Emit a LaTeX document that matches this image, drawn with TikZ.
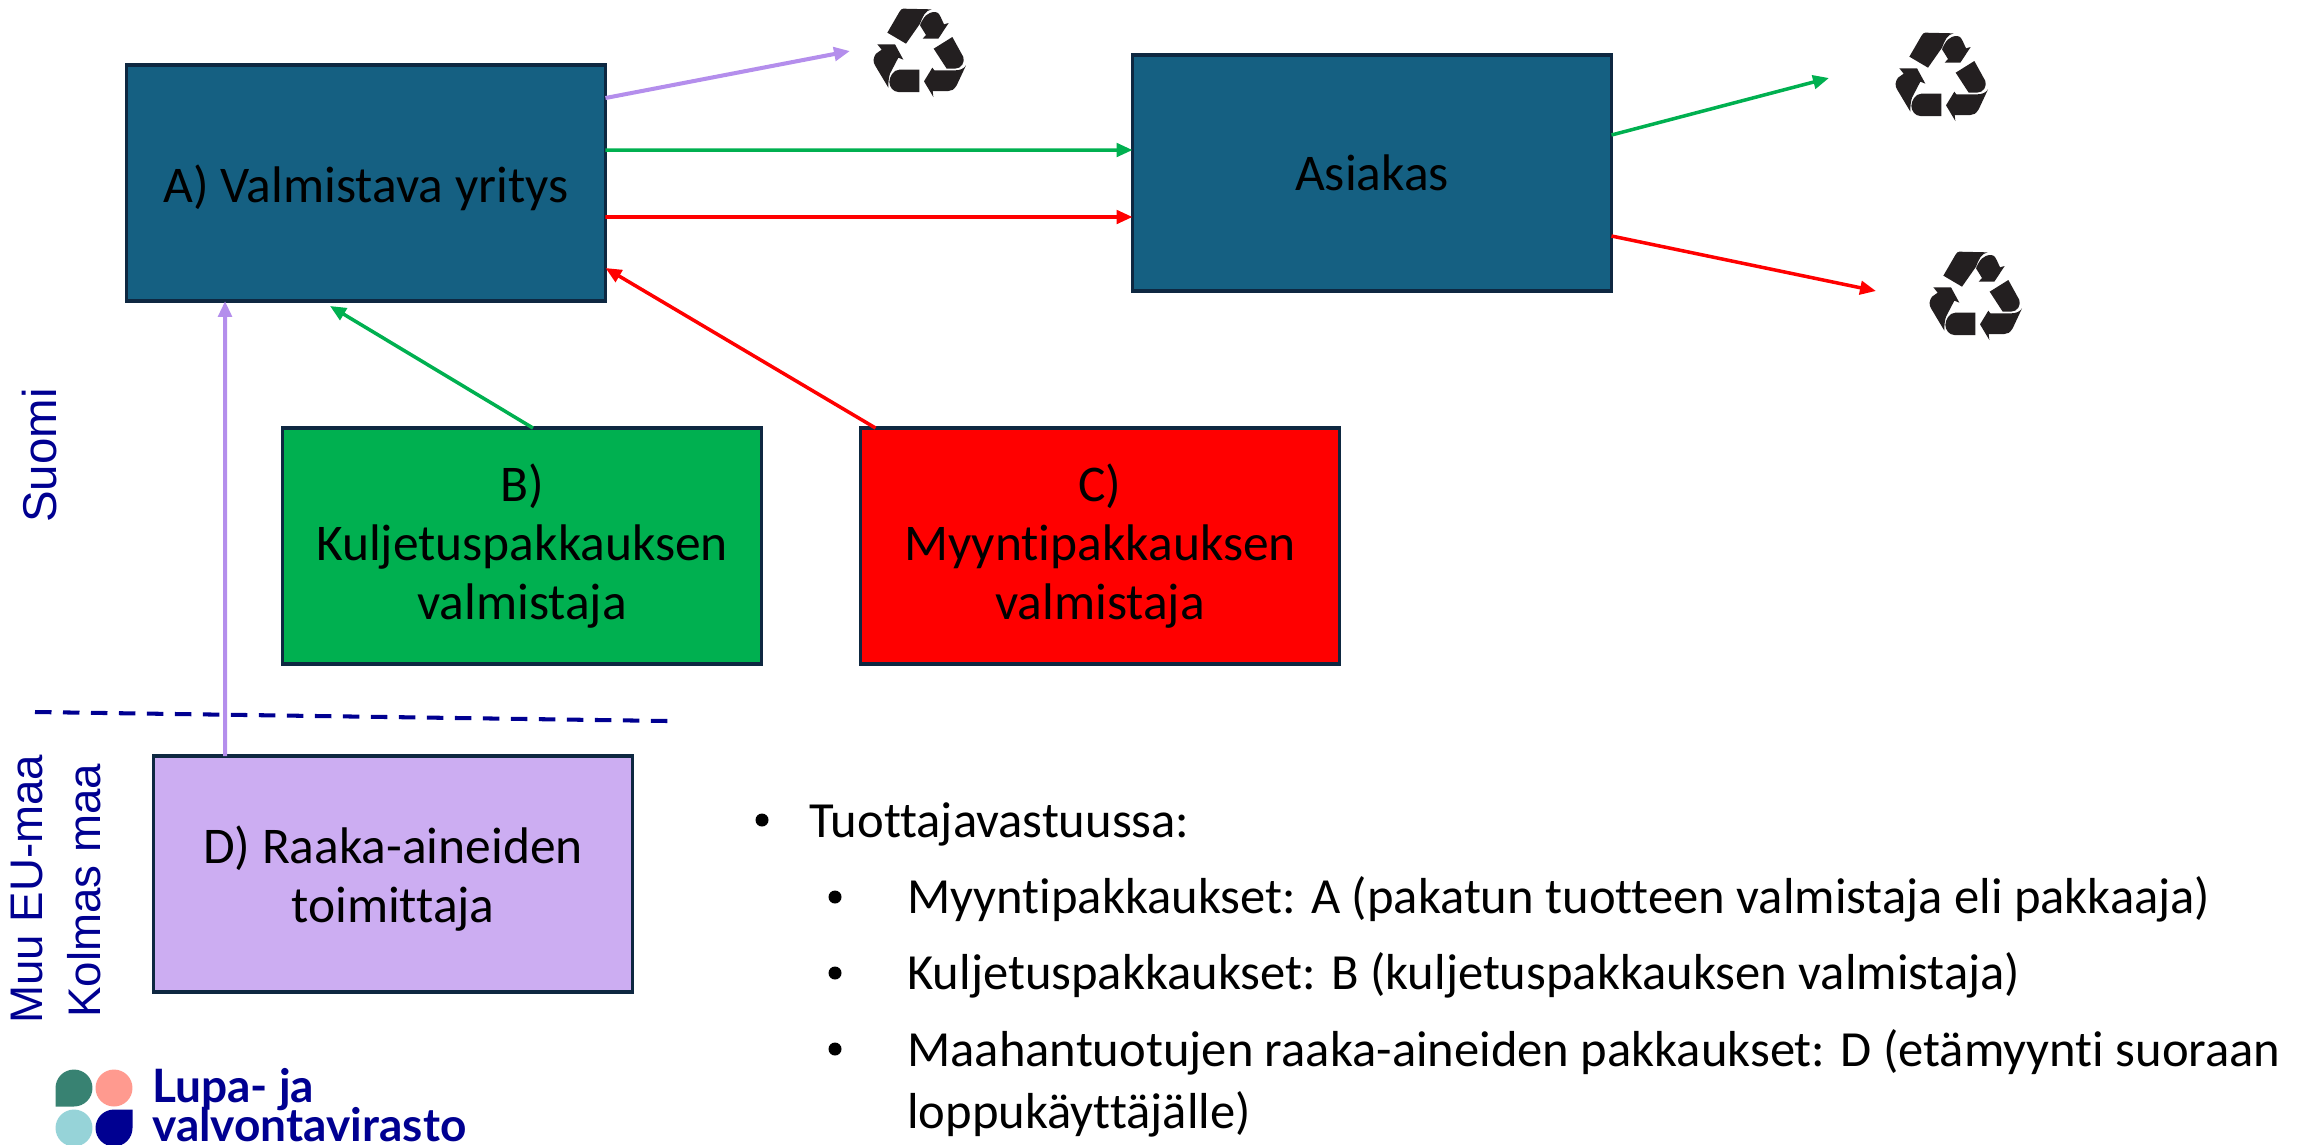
\documentclass[tikz,border=0pt]{standalone}
\usepackage{fontspec}
\setmainfont[RawFeature={-liga}]{Carlito}
\newfontfamily\sidefont{Liberation Sans}
\newfontfamily\logofont{Lato}
\usetikzlibrary{arrows.meta}
\usetikzlibrary{calc}
\definecolor{boxline}{HTML}{0E2841}
\definecolor{boxblue}{HTML}{156082}
\definecolor{boxgreen}{HTML}{00B050}
\definecolor{boxred}{HTML}{FF0000}
\definecolor{boxpurple}{HTML}{CCADF2}
\definecolor{linepurple}{HTML}{B48EEC}
\definecolor{navy}{HTML}{000091}
\definecolor{logogreen}{HTML}{388272}
\definecolor{logopink}{HTML}{FF9A8F}
\definecolor{logoblue}{HTML}{96D3D8}
\definecolor{icongray}{HTML}{231F20}
\tikzset{
	actor/.style={draw=boxline,line width=2pt,rectangle,align=center,inner sep=0pt,outer sep=0pt,minimum width=9.58cm,minimum height=4.72cm,font=\fontsize{29.3}{33.5}\selectfont},
	flow/.style={line width=2pt,-{Triangle[length=0.32cm,width=0.27cm]}},
	side/.style={text=navy,rotate=90,anchor=base west,inner sep=0pt,font=\sidefont\fontsize{26}{30}\selectfont},
	item/.style={anchor=base west,inner sep=0pt,font=\fontsize{28.8}{33}\selectfont},
	dot/.style={circle,fill=black,inner sep=0pt,minimum size=0.26cm},
	logotext/.style={anchor=base west,inner sep=0pt,text=navy,font=\logofont\bfseries\fontsize{26.2}{28}\selectfont},
	recycle/.pic={
		\fill[icongray,x=0.00667cm,y=-0.00667cm]
			(-98,-58) -- (-62,-120) .. controls (-58,-127) and (-55,-130) .. (-50,-130) -- (35,-128) .. controls (15,-125) and (8,-105) .. (0,-85) -- (-42,-25) -- cycle
			(0,-80) .. controls (10,-105) and (22,-120) .. (45,-120) .. controls (55,-120) and (60,-110) .. (62,-105) -- (72,-83) -- (86,-87) -- (55,-40) -- (8,-40) -- (18,-51) -- cycle
			(97,-45) -- (130,15) .. controls (135,30) and (125,50) .. (105,50) -- (80,50) -- (41,-10) -- cycle
			(138,40) -- (110,100) .. controls (102,113) and (95,117) .. (85,117) -- (38,117) -- (40,135) -- (12,88) -- (37,47) -- (43,55) -- (105,55) .. controls (120,55) and (132,50) .. (138,40) -- cycle
			(-2,53) -- (-2,120) -- (-65,120) .. controls (-80,120) and (-92,105) .. (-92,90) .. controls (-92,75) and (-80,53) .. (-62,53) -- cycle
			(-128,-23) -- (-75,-23) -- (-50,23) -- (-65,17) -- (-90,65) .. controls (-95,80) and (-95,95) .. (-95,107) -- (-135,40) .. controls (-142,30) and (-140,15) .. (-132,5) -- (-115,-7) -- cycle;
	}
}
\begin{document}
\begin{tikzpicture}[x=0.02cm,y=-0.02cm]
	\clip (0,0) rectangle (2298,1144);
	\node[actor,fill=boxblue] (VALMISTAVA) at (366,183) {\rule{0pt}{0.95cm}A) Valmistava yritys};
	\node[actor,fill=boxblue] (ASIAKAS) at (1372,173) {Asiakas};
	\node[actor,fill=boxgreen] (KULJETUS) at (522,546) {B)\\Kuljetuspakkauksen\\valmistaja};
	\node[actor,fill=boxred] (MYYNTI) at (1100,546) {C)\\Myyntipakkauksen\\valmistaja};
	\node[actor,fill=boxpurple] (RAAKA) at (393,874) {\rule{0pt}{0.95cm}D) Raaka-aineiden\\toimittaja};
	% recycling marks
	\pic at (920,52) {recycle};
	\pic at (1942,76) {recycle};
	\pic at (1976,295) {recycle};
	\coordinate (BIN1) at (850,51);
	\coordinate (BIN2) at (1829,78);
	\coordinate (BIN3) at (1876,291);
	\draw[flow,linepurple,line width=2.3pt] ([yshift=1.70cm]VALMISTAVA.east) -- (BIN1);
	\draw[flow,boxgreen] ([yshift=0.66cm]VALMISTAVA.east) -- ([yshift=0.46cm]ASIAKAS.west);
	\draw[flow,boxred] ([yshift=-0.68cm]VALMISTAVA.east) -- ([yshift=-0.88cm]ASIAKAS.west);
	\draw[flow,boxgreen] ([yshift=0.76cm]ASIAKAS.east) -- (BIN2);
	\draw[flow,boxred] ([yshift=-1.26cm]ASIAKAS.east) -- (BIN3);
	\draw[flow,boxgreen] ([xshift=0.22cm]KULJETUS.north) -- ([xshift=-0.72cm,yshift=-0.1cm]VALMISTAVA.south);
	\draw[flow,boxred] ([xshift=0.30cm]MYYNTI.north west) -- ([yshift=-1.70cm]VALMISTAVA.east);
	\draw[flow,linepurple,line width=2.3pt] ([xshift=-3.36cm]RAAKA.north) -- ([xshift=-2.82cm]VALMISTAVA.south);
	% border between countries
	\coordinate (BORDER1) at (35,712);
	\coordinate (BORDER2) at (668,721);
	\draw[navy,line width=2.3pt,dash pattern=on 0.33cm off 0.23cm] (BORDER1) -- (BORDER2);
	\node[side,font=\sidefont\fontsize{27}{30}\selectfont] (SUOMI) at (56,523) {Suomi};
	\node[side] (MUU) at (42,1024) {Muu EU-maa};
	\node[side] (KOLMAS) at (100,1018) {Kolmas maa};
	% list
	\node[dot] (D0) at (762,820) {};
	\node[item] (L0) at (809,837) {Tuottajavastuussa:};
	\node[dot] (D1) at (835,897) {};
	\node[item] (L1) at (907,913) {Myyntipakkaukset: A (pakatun tuotteen valmistaja eli pakkaaja)};
	\node[dot] (D2) at (835,973) {};
	\node[item] (L2) at (907,989) {Kuljetuspakkaukset: B (kuljetuspakkauksen valmistaja)};
	\node[dot] (D3) at (835,1049) {};
	\node[item] (L3) at (907,1066) {Maahantuotujen raaka-aineiden pakkaukset: D (etämyynti suoraan};
	\node[item] (L4) at (907,1128) {loppukäyttäjälle)};
	% logo
	\fill[logogreen] (55.5,1106.5) -- (55.5,1088) arc[start angle=180,end angle=-90,radius=0.37cm] -- cycle;
	\fill[logopink] (114,1088) circle[radius=0.37cm];
	\fill[logoblue] (74,1128) circle[radius=0.37cm];
	\fill[navy] (132.5,1109.5) -- (132.5,1128) arc[start angle=0,end angle=-270,radius=0.37cm] -- cycle;
	\node[logotext] (LOGO1) at (152,1102) {Lupa- ja};
	\node[logotext] (LOGO2) at (152,1141) {valvontavirasto};
\end{tikzpicture}
\end{document}
